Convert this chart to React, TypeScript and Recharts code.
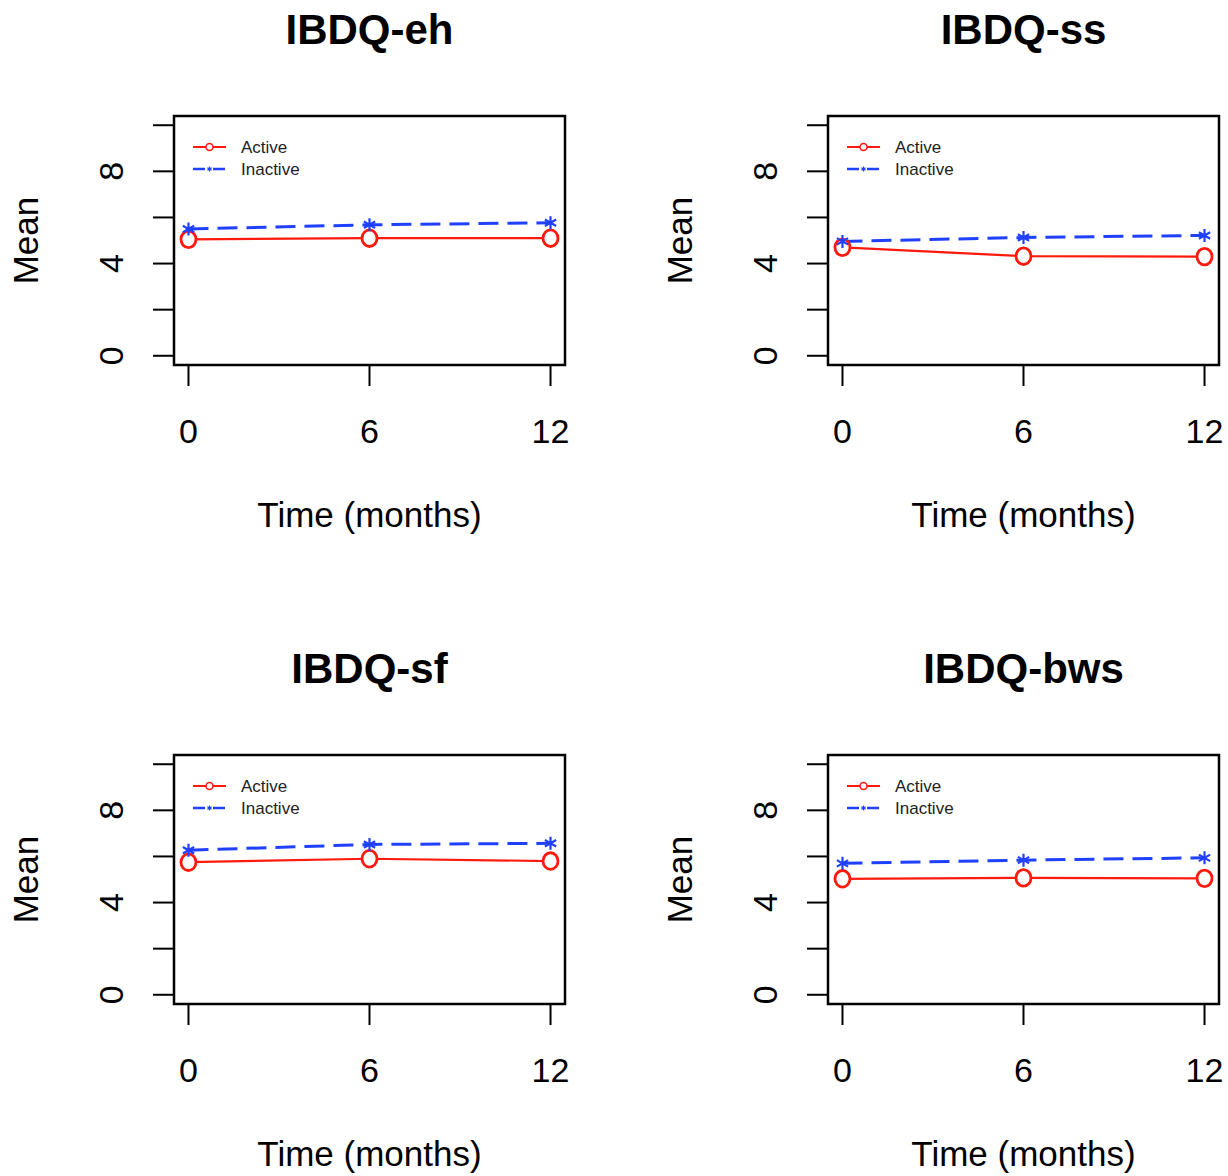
import { Label, Legend, Line, LineChart, ReferenceArea, XAxis, YAxis } from "recharts"

const months = [0, 6, 12]
const xTicks = [0, 6, 12]
const yTicks = [0, 2, 4, 6, 8, 10]
const yLabelTicks = [0, 4, 8]
const seriesNames = ["Active", "Inactive"]

const ehActive = [5.05, 5.1, 5.1]
const ehInactive = [5.5, 5.68, 5.77]
const ssActive = [4.7, 4.32, 4.3]
const ssInactive = [4.96, 5.13, 5.22]
const sfActive = [5.75, 5.9, 5.8]
const sfInactive = [6.27, 6.52, 6.57]
const bwsActive = [5.03, 5.07, 5.05]
const bwsInactive = [5.7, 5.84, 5.94]

const panels = [
  { title: "IBDQ-eh", active: ehActive, inactive: ehInactive, left: 0, top: 0 },
  { title: "IBDQ-ss", active: ssActive, inactive: ssInactive, left: 654, top: 0 },
  { title: "IBDQ-sf", active: sfActive, inactive: sfInactive, left: 0, top: 639 },
  { title: "IBDQ-bws", active: bwsActive, inactive: bwsInactive, left: 654, top: 639 },
]

const FONT = "'Liberation Sans', Arial, Helvetica, sans-serif"
const RED = "#ff1a0d"
const BLUE = "#2040ff"
const W = 574
const H = 537
const PLOT_LEFT = 174
const PLOT_TOP = 116
const PLOT_BOTTOM = 172
const X_DOMAIN: [number, number] = [-0.48, 12.48]
const Y_DOMAIN: [number, number] = [-0.4, 10.4]

function CircleDot({ cx, cy, index }: any) {
  return (
    <ellipse key={`c-${index}`} cx={cx} cy={cy} rx={7.5} ry={8.3} fill="#fff" stroke={RED} strokeWidth={2.8} />
  )
}

function starPath(cx: number, cy: number, r: number) {
  const d = r * 0.866
  const h = r * 0.5
  return `M${cx},${cy - r}L${cx},${cy + r}M${cx - d},${cy - h}L${cx + d},${cy + h}M${cx - d},${cy + h}L${cx + d},${cy - h}`
}

function StarDot({ cx, cy, index }: any) {
  return <path key={`s-${index}`} d={starPath(cx, cy, 6.5)} stroke={BLUE} strokeWidth={2.2} fill="none" />
}

function XTick({ x, payload }: any) {
  return (
    <text x={x} y={443} textAnchor="middle" fontSize={34} fontFamily={FONT} fill="#000">
      {payload.value}
    </text>
  )
}

function YTick({ y, payload }: any) {
  if (!yLabelTicks.includes(payload.value)) return <g />
  return (
    <text
      x={123}
      y={y}
      transform={`rotate(-90, 123, ${y})`}
      textAnchor="middle"
      fontSize={34}
      fontFamily={FONT}
      fill="#000"
    >
      {payload.value}
    </text>
  )
}

function LegendBox({ payload }: any) {
  const items = payload && payload.length ? payload : seriesNames.map((n) => ({ value: n }))
  return (
    <svg width={170} height={50} style={{ display: "block" }}>
      {items.map((item: any, i: number) => {
        const y = 15 + i * 22
        const color = i === 0 ? RED : BLUE
        return (
          <g key={item.value}>
            {i === 0 ? (
              <>
                <line x1={8} x2={41} y1={y} y2={y} stroke={color} strokeWidth={2} />
                <circle cx={24.5} cy={y} r={3.5} fill="#fff" stroke={color} strokeWidth={1.5} />
              </>
            ) : (
              <>
                <line x1={8} x2={41} y1={y} y2={y} stroke={color} strokeWidth={2.5} strokeDasharray="12 8" />
                <path d={starPath(24.5, y, 2.5)} stroke={color} strokeWidth={1.2} />
              </>
            )}
            <text x={56} y={y + 6} fontSize={17} fontFamily={FONT} fill="#222">
              {item.value}
            </text>
          </g>
        )
      })}
    </svg>
  )
}

function Panel({ title, active, inactive }: { title: string; active: number[]; inactive: number[] }) {
  const data = months.map((m, i) => ({ month: m, Active: active[i], Inactive: inactive[i] }))
  const plotW = W - PLOT_LEFT - 9
  return (
    <div style={{ position: "relative", width: W, height: H }}>
      <LineChart width={W} height={H} data={data} margin={{ top: PLOT_TOP, right: 9, bottom: 0, left: 0 }}>
        <XAxis
          dataKey="month"
          type="number"
          domain={X_DOMAIN}
          ticks={xTicks}
          allowDataOverflow
          height={PLOT_BOTTOM}
          axisLine={false}
          tickSize={21}
          tickLine={{ stroke: "#000", strokeWidth: 2 }}
          tick={<XTick />}
          interval={0}
        >
          <Label
            content={({ viewBox }: any) => (
              <text
                x={viewBox.x + viewBox.width / 2}
                y={viewBox.y + 162}
                textAnchor="middle"
                fontSize={35}
                fontFamily={FONT}
                fill="#000"
              >
                Time (months)
              </text>
            )}
          />
        </XAxis>
        <YAxis
          type="number"
          domain={Y_DOMAIN}
          ticks={yTicks}
          allowDataOverflow
          width={PLOT_LEFT}
          axisLine={false}
          tickSize={21}
          tickLine={{ stroke: "#000", strokeWidth: 2 }}
          tick={<YTick />}
          interval={0}
        >
          <Label
            content={({ viewBox }: any) => {
              const cy = viewBox.y + viewBox.height / 2
              return (
                <text
                  x={38}
                  y={cy}
                  transform={`rotate(-90, 38, ${cy})`}
                  textAnchor="middle"
                  fontSize={35}
                  fontFamily={FONT}
                  fill="#000"
                >
                  Mean
                </text>
              )
            }}
          />
        </YAxis>
        <ReferenceArea
          x1={X_DOMAIN[0]}
          x2={X_DOMAIN[1]}
          y1={Y_DOMAIN[0]}
          y2={Y_DOMAIN[1]}
          fill="none"
          stroke="#000"
          strokeWidth={2.5}
          fillOpacity={0}
          ifOverflow="visible"
        />
        <Line
          dataKey="Active"
          stroke={RED}
          strokeWidth={2.2}
          dot={<CircleDot />}
          activeDot={false}
          isAnimationActive={false}
        />
        <Line
          dataKey="Inactive"
          stroke={BLUE}
          strokeWidth={3}
          strokeDasharray="20 9"
          dot={<StarDot />}
          activeDot={false}
          isAnimationActive={false}
        />
        <Legend
          layout="vertical"
          align="center"
          verticalAlign="middle"
          content={<LegendBox />}
          wrapperStyle={{ position: "absolute", left: 185, top: 132, width: 170, height: 50 }}
        />
      </LineChart>
      <svg
        width={W}
        height={60}
        style={{ position: "absolute", left: 0, top: 0, pointerEvents: "none" }}
      >
        <text
          x={PLOT_LEFT + plotW / 2}
          y={44}
          textAnchor="middle"
          fontSize={42}
          fontWeight="bold"
          fontFamily={FONT}
          fill="#000"
        >
          {title}
        </text>
      </svg>
    </div>
  )
}

export default function App() {
  return (
    <div
      style={{
        position: "absolute",
        left: 0,
        top: 0,
        width: 1228,
        height: 1176,
        background: "#fff",
        fontFamily: FONT,
      }}
    >
      {panels.map((p) => (
        <div key={p.title} style={{ position: "absolute", left: p.left, top: p.top }}>
          <Panel title={p.title} active={p.active} inactive={p.inactive} />
        </div>
      ))}
    </div>
  )
}
